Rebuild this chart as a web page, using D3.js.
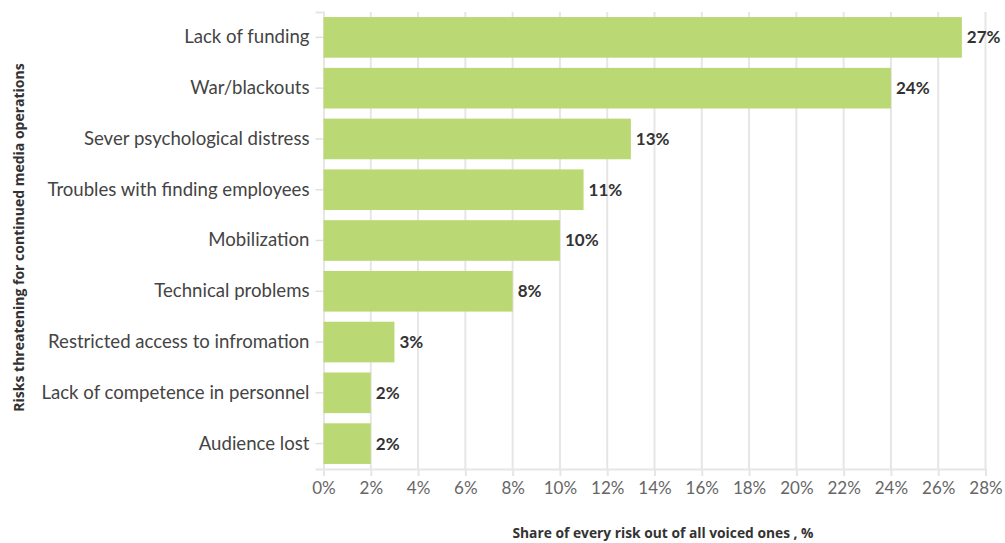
<!DOCTYPE html>
<html>
<head>
<meta charset="utf-8">
<script src="https://cdn.jsdelivr.net/npm/d3@7"></script>
<style>
  html, body { margin: 0; padding: 0; background: #fff; }
  svg { display: block; font-family: Lato, "Noto Sans", sans-serif; }
</style>
</head>
<body>
<svg id="chart" width="1005" height="543"></svg>
<script>
// Risks named by media outlets, with their share of all voiced risks (%)
const categories = [
  "Lack of funding",
  "War/blackouts",
  "Sever psychological distress",
  "Troubles with finding employees",
  "Mobilization",
  "Technical problems",
  "Restricted access to infromation",
  "Lack of competence in personnel",
  "Audience lost"
];
const shares = [27, 24, 13, 11, 10, 8, 3, 2, 2];
const xTicks = [0, 2, 4, 6, 8, 10, 12, 14, 16, 18, 20, 22, 24, 26, 28];
const xTitle = "Share of every risk out of all voiced ones , %";
const yTitle = "Risks threatening for continued media operations";

const svg = d3.select("#chart");
const plot = { left: 323.5, right: 985.5, top: 12, bottom: 469 };

const x = d3.scaleLinear().domain([0, 28]).range([plot.left, plot.right]);
const y = d3.scaleBand().domain(categories).range([plot.top, plot.bottom])
  .paddingInner(0.2).paddingOuter(0.1);

// vertical grid
svg.append("g").selectAll("line").data(xTicks.slice(1)).join("line")
  .attr("x1", d => x(d)).attr("x2", d => x(d))
  .attr("y1", plot.top).attr("y2", plot.bottom)
  .attr("stroke", "#e6e6e6").attr("stroke-width", 2);

// x axis
const xAxis = svg.append("g").attr("transform", `translate(0,${plot.bottom})`)
  .call(d3.axisBottom(x).tickValues(xTicks).tickFormat(d => d + "%").tickSize(7).tickPadding(6));
xAxis.select(".domain").attr("stroke", "#e6e6e6").attr("stroke-width", 2);
xAxis.selectAll(".tick line").attr("stroke", "#e6e6e6").attr("stroke-width", 2);
xAxis.selectAll(".tick text").attr("fill", "#666").attr("font-size", 17)
  .attr("font-family", "Lato, sans-serif");

// y axis
const yAxis = svg.append("g").attr("transform", `translate(${plot.left},0)`)
  .call(d3.axisLeft(y).tickSize(8).tickPadding(6));
yAxis.select(".domain").attr("stroke", "#e6e6e6").attr("stroke-width", 2);
yAxis.selectAll(".tick line").attr("stroke", "#e0e0e0").attr("stroke-width", 1.5);
yAxis.selectAll(".tick text").attr("fill", "#444").attr("font-size", 18.6)
  .attr("font-family", "Lato, sans-serif");

// bars
svg.append("g").selectAll("rect").data(categories).join("rect")
  .attr("x", x(0))
  .attr("y", d => y(d))
  .attr("width", (d, i) => x(shares[i]) - x(0))
  .attr("height", y.bandwidth())
  .attr("fill", "#bad873");

// value labels
svg.append("g").selectAll("text").data(categories).join("text")
  .attr("x", (d, i) => x(shares[i]) + 5)
  .attr("y", d => y(d) + y.bandwidth() / 2)
  .attr("dy", "0.35em")
  .attr("font-size", 17).attr("font-weight", "bold").attr("fill", "#333")
  .text((d, i) => shares[i] + "%");

// axis titles
svg.append("text")
  .attr("x", 663).attr("y", 538)
  .attr("text-anchor", "middle")
  .attr("font-family", "'Open Sans', sans-serif")
  .attr("font-size", 13.8).attr("font-weight", "bold").attr("fill", "#333")
  .text(xTitle);

svg.append("text")
  .attr("transform", `translate(24,${(plot.top + plot.bottom) / 2 - 3}) rotate(-90)`)
  .attr("text-anchor", "middle")
  .attr("font-family", "'Open Sans', sans-serif")
  .attr("font-size", 14).attr("font-weight", "bold").attr("fill", "#333")
  .text(yTitle);
</script>
</body>
</html>
